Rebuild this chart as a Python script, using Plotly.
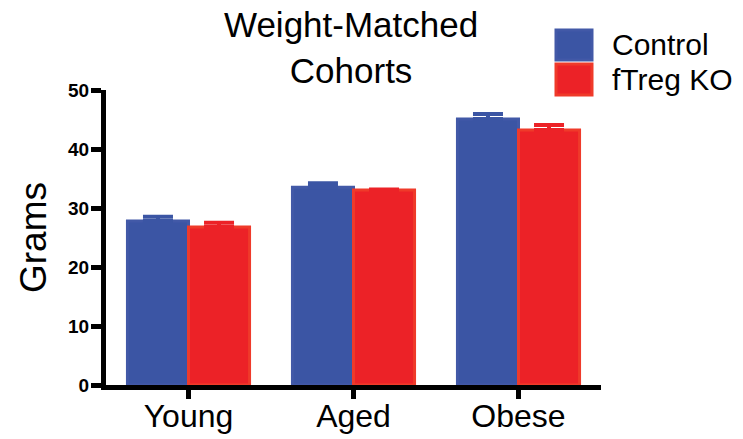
import plotly.graph_objects as go

categories = ["Young", "Aged", "Obese"]
series_names = ["Control", "fTreg KO"]
control_values = [27.8, 33.5, 45.1]
control_errors = [0.7, 0.7, 0.85]
ko_values = [26.8, 33.05, 43.2]
ko_errors = [0.7, 0.1, 0.85]
y_ticks = [0, 10, 20, 30, 40, 50]
title_text = "Weight-Matched<br>Cohorts"

W, H = 743, 439
L, R, T, B = 106, 142, 90, 54

blue_fill, blue_line = "#3B55A4", "#4259A7"
red_fill, red_line = "#EC2227", "#EF3A2A"
FONT = "Liberation Sans, Arial, sans-serif"

fig = go.Figure()
for name, vals, errs, fill, line in [
    (series_names[0], control_values, control_errors, blue_fill, blue_line),
    (series_names[1], ko_values, ko_errors, red_fill, red_line),
]:
    fig.add_trace(go.Bar(
        x=categories, y=vals, name=name,
        marker=dict(color=fill, line=dict(color=line, width=3)),
        error_y=dict(type="data", array=errs, symmetric=False, arrayminus=[0] * len(errs),
                     color=fill, thickness=4, width=15),
        showlegend=False,
    ))

fig.update_layout(
    width=W, height=H,
    margin=dict(l=L, r=R, t=T, b=B, autoexpand=False),
    paper_bgcolor="white", plot_bgcolor="white",
    barmode="group", bargap=0.26, bargroupgap=0,
    font=dict(family=FONT, color="black"),
    xaxis=dict(
        type="category", range=[-0.5, 2.5], automargin=False,
        showline=True, linecolor="black", linewidth=5,
        ticks="outside", ticklen=9, tickwidth=5, tickcolor="black",
        tickfont=dict(size=32, family=FONT, color="black"),
        ticklabelstandoff=-10,
        showgrid=False, zeroline=False,
    ),
    yaxis=dict(
        range=[0, 50], tickvals=y_ticks, automargin=False,
        showline=True, linecolor="black", linewidth=5,
        ticks="outside", ticklen=10, tickwidth=5, tickcolor="black",
        tickfont=dict(size=19, family=FONT, color="black", weight="bold"),
        ticklabelstandoff=-2,
        showgrid=False, zeroline=False,
        title=dict(text="Grams", font=dict(size=37, family=FONT, color="black"), standoff=12),
    ),
)

plot_w = W - L - R
plot_h = H - T - B
def px_x(px):
    return (px - L) / plot_w
def px_y(py):
    return (H - B - py) / plot_h

# title as annotation
fig.add_annotation(text=title_text, xref="paper", yref="paper",
                   x=px_x(350.5), y=px_y(3), xanchor="center", yanchor="top",
                   showarrow=False, font=dict(size=35, family=FONT, color="black"))

# legend drawn as shapes + text
legend_rows = [(series_names[0], blue_fill, blue_line, 29, 61), (series_names[1], red_fill, red_line, 63, 96)]
for name, fill, line, y0, y1 in legend_rows:
    fig.add_shape(type="rect", xref="paper", yref="paper",
                  x0=px_x(556), x1=px_x(592), y0=px_y(y1 - 1), y1=px_y(y0 + 1),
                  fillcolor=fill, line=dict(color=line, width=3))
    fig.add_annotation(text=name, xref="paper", yref="paper",
                       x=px_x(610), y=px_y((y0 + y1) / 2), xanchor="left", yanchor="middle",
                       showarrow=False, font=dict(size=30, family=FONT, color="black"))

fig.write_html("out.html", config={"displayModeBar": False},
               post_script="document.body.style.margin='0';document.body.style.overflow='hidden';")
